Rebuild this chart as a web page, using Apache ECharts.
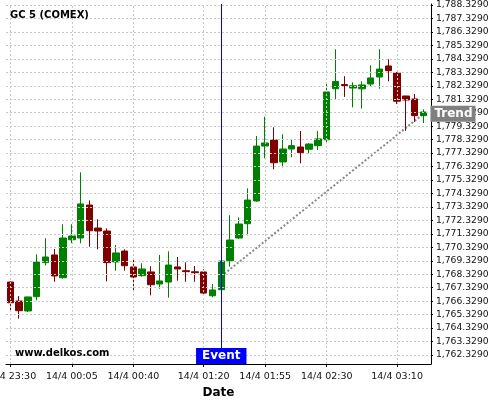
<!DOCTYPE html>
<html><head><meta charset="utf-8">
<script src="https://cdn.jsdelivr.net/npm/echarts@6/dist/echarts.min.js"></script>
<style>html,body{margin:0;padding:0;background:#fff}#c{width:500px;height:400px}</style>
</head><body><div id="c"></div>
<script>
const times = ['23:30','23:35','23:40','23:45','23:50','23:55','00:00','00:05','00:10','00:15',
  '00:20','00:25','00:30','00:35','00:40','00:45','00:50','00:55','01:00','01:05',
  '01:10','01:15','01:20','01:25','01:30','01:35','01:40','01:45','01:50','01:55',
  '02:00','02:05','02:10','02:15','02:20','02:25','02:30','02:35','02:40','02:45',
  '02:50','02:55','03:00','03:05','03:10','03:15','03:20','03:25'];
const openV  = [1767.75,1766.34,1765.60,1766.66,1769.19,1769.76,1768.07,1770.89,1771.02,1773.47,
  1771.76,1771.54,1769.24,1770.05,1768.87,1768.22,1768.50,1767.60,1767.75,1768.87,
  1768.59,1768.51,1768.50,1766.73,1767.18,1769.33,1771.02,1772.08,1773.77,1777.85,
  1778.30,1776.67,1777.63,1777.78,1777.61,1777.88,1778.32,1782.11,1782.42,1782.16,
  1782.10,1782.46,1782.98,1783.80,1783.28,1781.57,1781.35,1780.11];
const closeV = [1766.21,1765.62,1766.64,1769.24,1769.61,1768.20,1771.02,1771.17,1773.55,1771.56,
  1771.54,1769.19,1769.91,1768.96,1768.12,1768.72,1767.55,1767.83,1769.01,1768.72,
  1768.52,1768.44,1766.93,1767.16,1769.31,1770.87,1772.06,1773.84,1777.85,1778.08,
  1776.61,1777.63,1777.88,1777.36,1778.00,1778.38,1781.87,1782.65,1782.35,1782.33,
  1782.39,1782.91,1783.57,1783.45,1781.18,1781.27,1780.11,1780.38];
const lowV   = [1765.55,1765.03,1765.52,1766.39,1768.99,1767.77,1768.00,1770.63,1770.63,1770.37,
  1770.18,1767.80,1768.59,1768.59,1767.16,1768.15,1766.76,1767.25,1766.59,1767.85,
  1767.77,1767.77,1766.79,1766.62,1767.18,1768.89,1770.95,1771.22,1773.72,1776.94,
  1776.12,1776.27,1777.02,1776.57,1777.31,1777.56,1778.06,1781.27,1781.50,1780.72,
  1780.63,1782.31,1782.11,1782.66,1780.98,1778.97,1779.64,1779.56];
const highV  = [1767.80,1766.71,1766.66,1769.81,1771.00,1770.20,1772.04,1772.04,1775.90,1773.82,
  1772.41,1771.74,1770.50,1770.18,1769.44,1769.14,1768.92,1769.76,1770.03,1769.61,
  1769.22,1768.94,1768.70,1767.60,1769.31,1772.71,1772.56,1774.71,1778.60,1780.03,
  1779.24,1778.72,1778.35,1778.97,1778.06,1778.97,1782.56,1785.04,1783.04,1782.59,
  1782.65,1783.85,1785.04,1784.30,1783.35,1781.57,1781.72,1780.58];
const xTickLabels = ['23:30','00:05','00:40','01:20','01:55','02:30','03:10'];
const datePrefix = '14/4 ';
const yTicks = [1762.329,1763.329,1764.329,1765.329,1766.329,1767.329,1768.329,1769.329,1770.329,
  1771.329,1772.329,1773.329,1774.329,1775.329,1776.329,1777.329,1778.329,1779.329,1780.329,
  1781.329,1782.329,1783.329,1784.329,1785.329,1786.329,1787.329,1788.329];
const yMin = 1761.66, yMax = 1788.403;
const eventTime = '01:30';
const trendStart = ['01:30', 1768.18];
const trendEnd = ['03:25', 1780.25];

const FONT = 'DejaVu Sans';
const idx = t => times.indexOf(t);
const candleData = times.map((t, i) => [i, openV[i], closeV[i], lowV[i], highV[i]]);
const xTickIdx = xTickLabels.map(idx);
const gridStyle = {color: '#c8c8c8', type: [2, 2], width: 1};
const gridLines = xTickIdx.map(v => ({xAxis: v, lineStyle: gridStyle}))
  .concat(yTicks.map(v => ({yAxis: v, lineStyle: gridStyle})));
const eventStyle = {color: '#0000ff', width: 1, type: 'solid', opacity: 1};
const chart = echarts.init(document.getElementById('c'), null, {renderer: 'canvas'});
chart.setOption({
  animation: false,
  backgroundColor: '#fff',
  title: [
    {text: 'GC 5 (COMEX)', left: 10, top: 10, padding: 0,
     textStyle: {fontSize: 10, fontWeight: 'bold', color: '#000', fontFamily: FONT}},
    {text: 'www.delkos.com', left: 15, top: 348, padding: 0,
     textStyle: {fontSize: 10, fontWeight: 'bold', color: '#000', fontFamily: FONT}}
  ],
  grid: {left: 6, right: 69, top: 4, bottom: 36, containLabel: false, outerBoundsMode: 'none'},
  xAxis: {
    type: 'value', min: -0.49, max: 47.86,
    name: 'Date', nameLocation: 'middle', nameGap: 21,
    nameTextStyle: {fontSize: 12, fontWeight: 'bold', color: '#000', fontFamily: FONT},
    axisLine: {show: true, onZero: false, lineStyle: {color: '#000', width: 1}},
    axisTick: {show: true, length: 3, customValues: xTickIdx, lineStyle: {color: '#000'}},
    axisLabel: {customValues: xTickIdx, margin: 8, fontSize: 9.5, color: '#111', fontFamily: FONT,
      formatter: v => datePrefix + times[Math.round(v)]},
    splitLine: {show: false}
  },
  yAxis: {
    type: 'value', position: 'right', min: yMin, max: yMax, scale: true,
    axisLine: {show: true, onZero: false, lineStyle: {color: '#000', width: 1}},
    axisTick: {show: true, length: 2, customValues: yTicks, lineStyle: {color: '#000'}},
    axisLabel: {customValues: yTicks, margin: 5, fontSize: 9.2, color: '#111', fontFamily: FONT,
      formatter: v => v.toLocaleString('en-US', {minimumFractionDigits: 4, maximumFractionDigits: 4})},
    splitLine: {show: false}
  },
  series: [
    {
      type: 'line', z: 1,
      data: [[idx(trendStart[0]), trendStart[1]], [idx(trendEnd[0]), trendEnd[1]]],
      symbol: 'none',
      lineStyle: {color: '#888', type: 'dotted', width: 2},
      endLabel: {show: true, formatter: 'Trend', distance: 7, backgroundColor: '#808080',
        color: '#fff', fontWeight: 'bold', fontSize: 12, lineHeight: 14, padding: [1, 3, 1, 4], fontFamily: FONT},
      markLine: {
        silent: true, symbol: 'none', animation: false, label: {show: false},
        data: gridLines
      }
    },
    {
      type: 'candlestick', z: 2,
      data: candleData,
      barWidth: 7,
      itemStyle: {color: '#008000', color0: '#800000', borderColor: '#008000', borderColor0: '#800000', borderWidth: 1},
      markLine: {
        silent: true, symbol: 'none', animation: false, z: 5,
        lineStyle: eventStyle,
        label: {show: false},
        emphasis: {disabled: true},
        data: [{xAxis: idx(eventTime), lineStyle: eventStyle}]
      },
      markPoint: {
        silent: true, symbol: 'rect', symbolSize: 0, animation: false,
        data: [{coord: [idx(eventTime), yMin]}],
        label: {show: true, formatter: 'Event', position: 'top', distance: 0, backgroundColor: '#0000ff',
          color: '#fff', fontWeight: 'bold', fontSize: 12, lineHeight: 14, padding: [1, 6, 1, 6], fontFamily: FONT}
      }
    }
  ]
});
</script></body></html>
